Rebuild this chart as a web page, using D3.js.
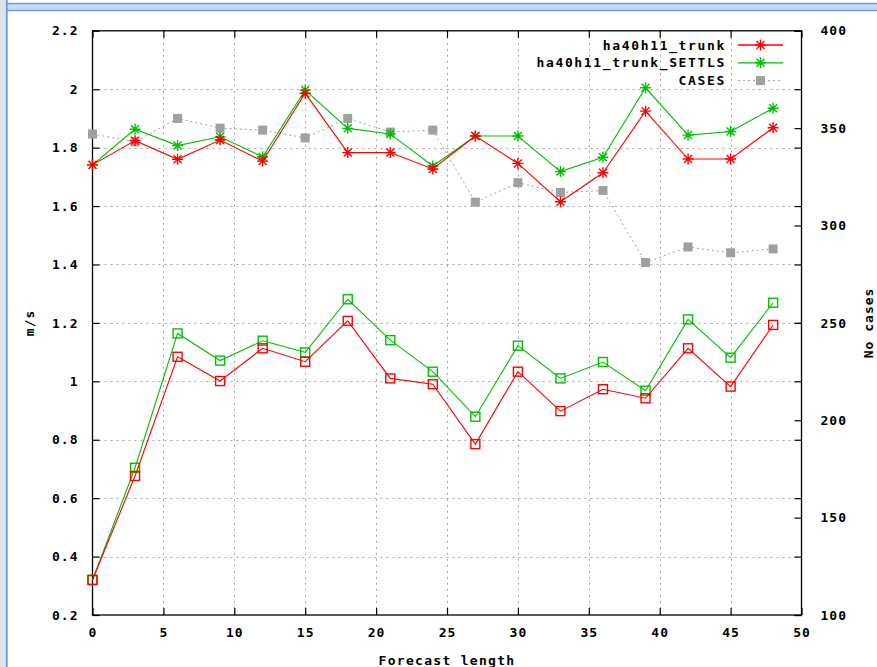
<!DOCTYPE html>
<html>
<head>
<meta charset="utf-8">
<script src="https://cdn.jsdelivr.net/npm/d3@7/dist/d3.min.js"></script>
<style>
  html, body { margin: 0; padding: 0; background: #fff; }
  svg { display: block; }
  text { font-family: "DejaVu Sans Mono", "Liberation Mono", monospace; font-weight: bold; font-size: 13px; fill: #000; }
</style>
</head>
<body>
<svg id="chart" width="877" height="667"></svg>
<script>
// Forecast lengths (hours)
const forecastLength = [0, 3, 6, 9, 12, 15, 18, 21, 24, 27, 30, 33, 36, 39, 42, 45, 48];

// Upper curves (asterisk markers), m/s
const trunkUpper  = [1.741, 1.824, 1.760, 1.826, 1.754, 1.986, 1.783, 1.783, 1.727, 1.840, 1.746, 1.615, 1.714, 1.925, 1.761, 1.761, 1.868];
const settlsUpper = [1.741, 1.863, 1.807, 1.837, 1.769, 1.997, 1.866, 1.847, 1.737, 1.840, 1.840, 1.718, 1.767, 2.005, 1.843, 1.855, 1.935];

// Lower curves (open square markers), m/s
const trunkLower  = [0.320, 0.676, 1.084, 1.001, 1.113, 1.067, 1.207, 1.010, 0.990, 0.785, 1.033, 0.898, 0.973, 0.942, 1.113, 0.982, 1.193];
const settlsLower = [0.320, 0.704, 1.164, 1.071, 1.139, 1.099, 1.281, 1.141, 1.033, 0.879, 1.122, 1.010, 1.066, 0.968, 1.212, 1.081, 1.269];

// Number of cases (right axis)
const cases = [347, 343, 355, 350, 349, 345, 355, 348, 349, 312, 322, 317, 318, 281, 289, 286, 288];

// Tick values
const xTicks  = [0, 5, 10, 15, 20, 25, 30, 35, 40, 45, 50];
const yTicks  = [0.2, 0.4, 0.6, 0.8, 1.0, 1.2, 1.4, 1.6, 1.8, 2.0, 2.2];
const y2Ticks = [100, 150, 200, 250, 300, 350, 400];

const legendNames = ["ha40h11_trunk", "ha40h11_trunk_SETTLS", "CASES"];

const RED = "#ff0000", GREEN = "#00c000", GRAY = "#a0a0a0";

const svg = d3.select("#chart");

// ---- page frame around the plot ----
const frame = svg.append("g");
frame.append("rect").attr("x", 0).attr("y", 0).attr("width", 6).attr("height", 667).attr("fill", "#dde4ec");
frame.append("rect").attr("x", 7).attr("y", 4).attr("width", 870).attr("height", 6).attr("fill", "#c9daef");
frame.append("line").attr("x1", 7).attr("x2", 877).attr("y1", 3.5).attr("y2", 3.5).attr("stroke", "#6b9fd9").attr("stroke-width", 1.5);
frame.append("line").attr("x1", 7).attr("x2", 877).attr("y1", 10.5).attr("y2", 10.5).attr("stroke", "#6b9fd9").attr("stroke-width", 1.5);
frame.append("line").attr("x1", 6.8).attr("x2", 6.8).attr("y1", 0).attr("y2", 667).attr("stroke", "#6b9fd9").attr("stroke-width", 1.8);

// ---- scales ----
const L = 92.5, R = 801.5, T = 30.8, B = 615;
const x  = d3.scaleLinear().domain([0, 50]).range([L, R]);
const y  = d3.scaleLinear().domain([0.2, 2.2]).range([B, T]);
const y2 = d3.scaleLinear().domain([100, 400]).range([B, T]);

const fmtY = d => String(+d.toFixed(1));

// ---- grid ----
const grid = svg.append("g").attr("stroke", "#a8a8a8").attr("stroke-width", 1).attr("stroke-dasharray", "2,4");
grid.selectAll(".gx").data(xTicks.slice(1, -1)).join("line")
  .attr("x1", d => Math.round(x(d)) + 0.5).attr("x2", d => Math.round(x(d)) + 0.5)
  .attr("y1", T).attr("y2", B);
grid.selectAll(".gy").data(yTicks.slice(1, -1)).join("line")
  .attr("y1", d => Math.round(y(d)) + 0.5).attr("y2", d => Math.round(y(d)) + 0.5)
  .attr("x1", L).attr("x2", R);

// ---- axes (ticks pointing inward, tick labels outside) ----
const tickLen = 7;
const axisStyle = g => {
  g.select(".domain").remove();
  g.selectAll(".tick line").attr("stroke", "#000").attr("stroke-width", 1.2);
  g.selectAll("text").attr("font-family", null).attr("font-size", null);
};

// bottom
svg.append("g").attr("transform", `translate(0,${B})`)
  .call(d3.axisBottom(x).tickValues(xTicks).tickSizeInner(-tickLen).tickSizeOuter(0).tickPadding(13).tickFormat(d3.format("d")))
  .call(axisStyle)
  .selectAll("text").attr("letter-spacing", "1px");
// top (mirror, no labels)
svg.append("g").attr("transform", `translate(0,${T})`)
  .call(d3.axisTop(x).tickValues(xTicks).tickSizeInner(-tickLen).tickSizeOuter(0).tickFormat(""))
  .call(axisStyle);
// left
svg.append("g").attr("transform", `translate(${L},0)`)
  .call(d3.axisLeft(y).tickValues(yTicks).tickSizeInner(-tickLen).tickSizeOuter(0).tickPadding(14).tickFormat(fmtY))
  .call(axisStyle)
  .selectAll("text").attr("letter-spacing", "1px");
// right mirror of left axis
svg.append("g").attr("transform", `translate(${R},0)`)
  .call(d3.axisRight(y).tickValues(yTicks).tickSizeInner(-tickLen).tickSizeOuter(0).tickFormat(""))
  .call(axisStyle);
// right secondary axis (cases)
svg.append("g").attr("transform", `translate(${R},0)`)
  .call(d3.axisRight(y2).tickValues(y2Ticks).tickSizeInner(-tickLen).tickSizeOuter(0).tickPadding(19).tickFormat(d3.format("d")))
  .call(axisStyle)
  .selectAll("text").attr("letter-spacing", "1px");

// plot border
svg.append("rect").attr("x", L).attr("y", T).attr("width", R - L).attr("height", B - T)
  .attr("fill", "none").attr("stroke", "#000").attr("stroke-width", 1.3);

// ---- axis titles ----
svg.append("text").attr("transform", `translate(34,${(T + B) / 2}) rotate(-90)`)
  .attr("text-anchor", "middle").attr("letter-spacing", "1px").text("m/s");
svg.append("text").attr("transform", `translate(873,${(T + B) / 2}) rotate(-90)`)
  .attr("text-anchor", "middle").attr("letter-spacing", "1px").text("No cases");
svg.append("text").attr("x", (L + R) / 2).attr("y", 665)
  .attr("text-anchor", "middle").attr("font-weight", "normal").attr("font-size", "14px").attr("letter-spacing", "1.3px").text("Forecast length");

// ---- marker helpers ----
function asterisk(g, cx, cy, color) {
  const s = 5.5, d = 4;
  const p = `M${cx - s},${cy}L${cx + s},${cy}M${cx},${cy - s}L${cx},${cy + s}` +
            `M${cx - d},${cy - d}L${cx + d},${cy + d}M${cx - d},${cy + d}L${cx + d},${cy - d}`;
  g.append("path").attr("d", p).attr("stroke", color).attr("stroke-width", 1.4).attr("fill", "none");
}
function openSquare(g, cx, cy, color) {
  g.append("rect").attr("x", cx - 4.5).attr("y", cy - 4.5).attr("width", 9).attr("height", 9)
    .attr("fill", "none").attr("stroke", color).attr("stroke-width", 1.4);
}
function filledSquare(g, cx, cy, color) {
  g.append("rect").attr("x", cx - 4.5).attr("y", cy - 4.5).attr("width", 9).attr("height", 9).attr("fill", color);
}

function drawSeries(values, scaleY, color, marker, dash) {
  const g = svg.append("g");
  const line = d3.line().x((d, i) => x(forecastLength[i])).y(d => scaleY(d));
  g.append("path").attr("d", line(values)).attr("fill", "none").attr("stroke", color)
    .attr("stroke-width", dash ? 1 : 1.1).attr("stroke-dasharray", dash || null);
  values.forEach((v, i) => marker(g, x(forecastLength[i]), scaleY(v), color));
}

// cases (right axis) drawn first so the other curves sit above
drawSeries(cases, y2, GRAY, filledSquare, "2,3");
drawSeries(settlsLower, y, GREEN, openSquare);
drawSeries(trunkLower, y, RED, openSquare);
drawSeries(settlsUpper, y, GREEN, asterisk);
drawSeries(trunkUpper, y, RED, asterisk);

// ---- legend ----
const leg = svg.append("g");
const legRows = [
  { name: legendNames[0], color: RED, marker: asterisk, dash: null },
  { name: legendNames[1], color: GREEN, marker: asterisk, dash: null },
  { name: legendNames[2], color: GRAY, marker: filledSquare, dash: "2,3" }
];
legRows.forEach((r, i) => {
  const cy = 45 + i * 17.8;
  leg.append("text").attr("x", 726).attr("y", cy).attr("dy", "0.36em")
    .attr("text-anchor", "end").attr("letter-spacing", "1.65px").text(r.name);
  leg.append("line").attr("x1", 738).attr("x2", 783).attr("y1", cy).attr("y2", cy)
    .attr("stroke", r.color).attr("stroke-width", r.dash ? 1 : 1.3).attr("stroke-dasharray", r.dash);
  r.marker(leg, 760.5, cy, r.color);
});
</script>
</body>
</html>
